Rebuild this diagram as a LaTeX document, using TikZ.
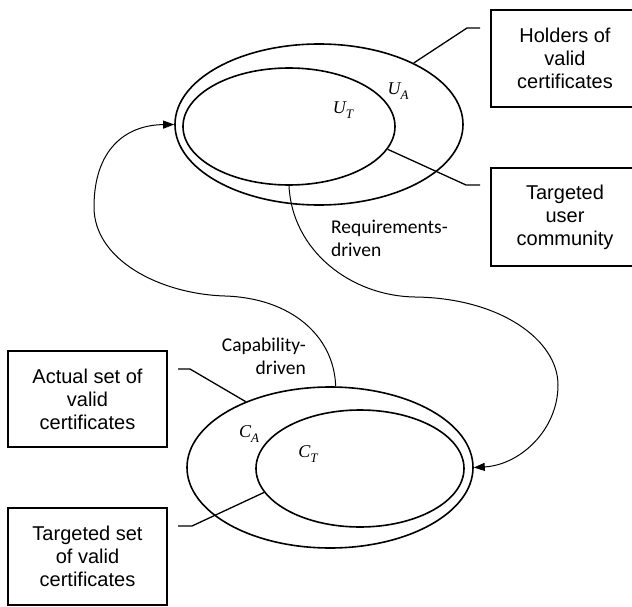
\documentclass[tikz,border=0pt]{standalone}
\usepackage{fontspec}
\setmainfont{Liberation Sans}
\newfontfamily\calib{Carlito}
\newfontfamily\tms{Liberation Serif}
\usetikzlibrary{shapes.geometric,arrows.meta}
\begin{document}
\begin{tikzpicture}[x=1pt,y=-1pt,
  setell/.style={draw, ellipse, line width=1.6pt, inner sep=0pt},
  labelbox/.style={draw, rectangle, line width=1.6pt, align=center, inner sep=0pt, font=\fontsize{20}{23}\selectfont},
  lead/.style={line width=1.3pt},
  flow/.style={line width=1pt, -{Triangle[length=11pt,width=8pt]}},
  flowtext/.style={font=\calib\fontsize{19.5}{23}\selectfont, inner sep=0pt},
  setname/.style={font=\tms\itshape\fontsize{18}{20}\selectfont, inner sep=0pt}]
\useasboundingbox (0,0) rectangle (632,607);
\clip (0,0) rectangle (632,607);

% sets
\node[setell, minimum width=288pt, minimum height=161pt] (UA) at (319,124.5) {};
\node[setell, minimum width=212pt, minimum height=117pt] (UT) at (289,126.5) {};
\node[setell, minimum width=286pt, minimum height=161pt] (CA) at (330,467.5) {};
\node[setell, minimum width=208pt, minimum height=117pt] (CT) at (360,468.5) {};

% set names
\node[setname] (uaL) at (398,91) {U\raisebox{-5pt}{\fontsize{13}{13}\selectfont A}};
\node[setname] (utL) at (343,110) {U\raisebox{-5pt}{\fontsize{13}{13}\selectfont T}};
\node[setname] (caL) at (249,434) {C\raisebox{-5pt}{\fontsize{13}{13}\selectfont A}};
\node[setname] (ctL) at (308,454) {C\raisebox{-5pt}{\fontsize{13}{13}\selectfont T}};

% boxes
\node[labelbox, minimum width=148pt, minimum height=97pt] (hold) at (565,58.5) {Holders of\\valid\\certificates};
\node[labelbox, minimum width=148pt, minimum height=98pt] (tuc) at (565,217) {Targeted\\user\\community};
\node[labelbox, minimum width=159pt, minimum height=96pt] (act) at (87.5,399) {Actual set of\\valid\\certificates};
\node[labelbox, minimum width=159pt, minimum height=97pt] (tset) at (87.5,556.5) {Targeted set\\of valid\\certificates};

% leader lines
\coordinate (h1a) at (480,28);  \coordinate (h1b) at (467,28);
\coordinate (h2a) at (480,185); \coordinate (h2b) at (466,185);
\coordinate (a1a) at (178,369); \coordinate (a1b) at (190,369);
\coordinate (a2a) at (178,526); \coordinate (a2b) at (192,526);
\draw[lead] (h1a) -- (h1b) -- (UA.33.5);
\draw[lead] (h2a) -- (h2b) -- (UT.-13.5);
\draw[lead] (a1a) -- (a1b) -- (CA.142);
\draw[lead] (a2a) -- (a2b) -- (CT.194);

% flows
\draw[flow] (UT.south) .. controls (292,250) and (350,296) .. (415,297)
  .. controls (500,298) and (558,340) .. (558,385)
  .. controls (558,430) and (520,465) .. (CA.east);
\draw[flow] (CA.86) .. controls (334,335) and (290,298) .. (225,296)
  .. controls (160,294) and (94,260) .. (94,207)
  .. controls (94,150) and (125,125) .. (UA.west);

% flow labels
\node[flowtext, align=left, anchor=west] (req) at (331,238) {Requirements-\\driven};
\node[flowtext, align=right, anchor=east] (cap) at (306,356) {Capability-\\driven};
\end{tikzpicture}
\end{document}
